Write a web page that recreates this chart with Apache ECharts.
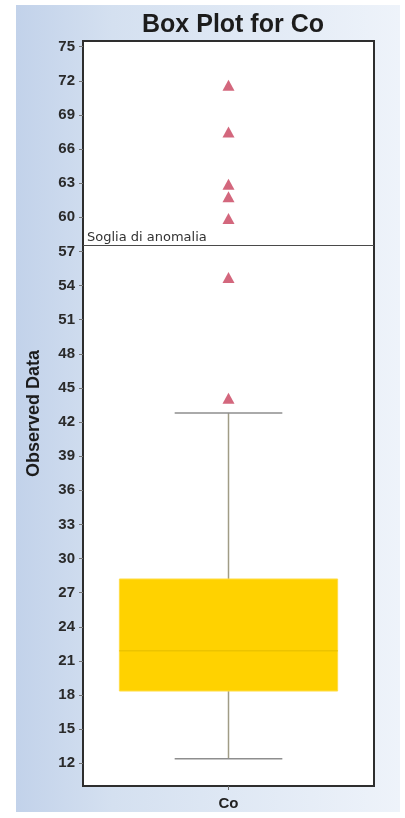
<!DOCTYPE html>
<html>
<head>
<meta charset="utf-8">
<script src="https://cdn.jsdelivr.net/npm/echarts@6/dist/echarts.min.js"></script>
<style>
  html, body { margin: 0; padding: 0; background: #fff; }
  #box-pic { width: 405px; height: 818px; }
</style>
</head>
<body>
<div id="box-pic"></div>
<script>
// values
const categories = ['Co']
// [min, q1, median, q3, max]
const boxStats = [[12.4, 18.35, 21.9, 28.2, 42.8]]
const outliers = [71.6, 67.5, 62.9, 61.8, 59.9, 54.7, 44.1]
const threshold = 57.5
const yTicks = [12, 15, 18, 21, 24, 27, 30, 33, 36, 39, 42, 45, 48, 51, 54, 57, 60, 63, 66, 69, 72, 75]

const myChart = echarts.init(document.getElementById('box-pic'))

function renderBox (params, api) {
  const x = api.value(0)
  const lo = api.coord([x, api.value(1)])
  const q1 = api.coord([x, api.value(2)])
  const med = api.coord([x, api.value(3)])
  const q3 = api.coord([x, api.value(4)])
  const hi = api.coord([x, api.value(5)])
  const band = api.size([1, 0])[0]
  const boxW = band * 0.75
  const capW = band * 0.37
  const cx = lo[0]
  return {
    type: 'group',
    children: [
      { type: 'line', shape: { x1: cx, y1: hi[1], x2: cx, y2: q3[1] }, style: { stroke: '#a09c86', lineWidth: 1.5 } },
      { type: 'line', shape: { x1: cx, y1: q1[1], x2: cx, y2: lo[1] }, style: { stroke: '#a09c86', lineWidth: 1.5 } },
      { type: 'line', shape: { x1: cx - capW / 2, y1: hi[1], x2: cx + capW / 2, y2: hi[1] }, style: { stroke: '#8e8e8e', lineWidth: 1.5 } },
      { type: 'line', shape: { x1: cx - capW / 2, y1: lo[1], x2: cx + capW / 2, y2: lo[1] }, style: { stroke: '#8e8e8e', lineWidth: 1.5 } },
      { type: 'rect', shape: { x: cx - boxW / 2, y: q3[1], width: boxW, height: q1[1] - q3[1] }, style: { fill: '#ffd200', stroke: '#ffdc45', lineWidth: 1 } },
      { type: 'line', shape: { x1: cx - boxW / 2, y1: med[1], x2: cx + boxW / 2, y2: med[1] }, style: { stroke: '#ecc300', lineWidth: 1.5 } }
    ]
  }
}

const option = {
  graphic: [
    {
      type: 'rect',
      z: -10,
      silent: true,
      shape: { x: 16, y: 5, width: 384, height: 807 },
      style: {
        fill: new echarts.graphic.LinearGradient(0, 0, 1, 0, [
          { offset: 0, color: '#c2d2ea' },
          { offset: 0.25, color: '#d4e0f0' },
          { offset: 1, color: '#eef3fa' }
        ])
      }
    }
  ],
  title: {
    text: 'Box Plot for Co',
    left: 228,
    textAlign: 'center',
    top: 8,
    textStyle: {
      fontFamily: 'Liberation Sans',
      fontSize: 25,
      fontWeight: 'bold',
      color: '#1c1c1c'
    }
  },
  grid: {
    left: 83,
    right: 31,
    top: 41,
    bottom: 32,
    show: true,
    backgroundColor: '#fff',
    borderColor: '#2e2e2e',
    borderWidth: 2
  },
  xAxis: {
    type: 'category',
    data: categories,
    boundaryGap: true,
    axisLine: { lineStyle: { color: '#2e2e2e', width: 2 } },
    axisTick: { show: true, alignWithLabel: true, length: 4, lineStyle: { color: '#666' } },
    axisLabel: {
      margin: 10,
      fontFamily: 'Liberation Sans',
      fontSize: 15,
      fontWeight: 'bold',
      color: '#222'
    }
  },
  yAxis: {
    type: 'value',
    min: 10,
    max: 75.5,
    name: 'Observed Data',
    nameLocation: 'middle',
    nameGap: 40,
    nameTextStyle: {
      fontFamily: 'Liberation Sans',
      fontSize: 18,
      fontWeight: 'bold',
      color: '#1c1c1c'
    },
    splitLine: { show: false },
    axisLine: { show: true, lineStyle: { color: '#2e2e2e', width: 2 } },
    axisTick: { show: true, length: 4, customValues: yTicks, lineStyle: { color: '#777' } },
    axisLabel: {
      customValues: yTicks,
      margin: 8,
      fontFamily: 'Liberation Sans',
      fontSize: 15,
      fontWeight: 'bold',
      color: '#2a2a2a'
    }
  },
  series: [
    {
      type: 'custom',
      renderItem: renderBox,
      encode: { x: 0, y: [1, 2, 3, 4, 5] },
      data: boxStats.map((d, i) => [i].concat(d)),
      z: 2
    },
    {
      type: 'scatter',
      symbol: 'triangle',
      symbolSize: [12, 11],
      itemStyle: { color: '#c8415d' },
      data: outliers.map(v => [0, v]),
      z: 3,
      markLine: {
        silent: true,
        symbol: 'none',
        lineStyle: { color: '#4a4a4a', width: 1, type: 'solid' },
        label: {
          formatter: 'Soglia di anomalia',
          position: 'insideStartTop',
          distance: [4, 2],
          fontFamily: 'DejaVu Sans',
          fontSize: 13,
          color: '#333'
        },
        data: [{ yAxis: threshold }]
      }
    }
  ]
}

myChart.setOption(option)
window.addEventListener('resize', () => myChart.resize())
</script>
</body>
</html>
